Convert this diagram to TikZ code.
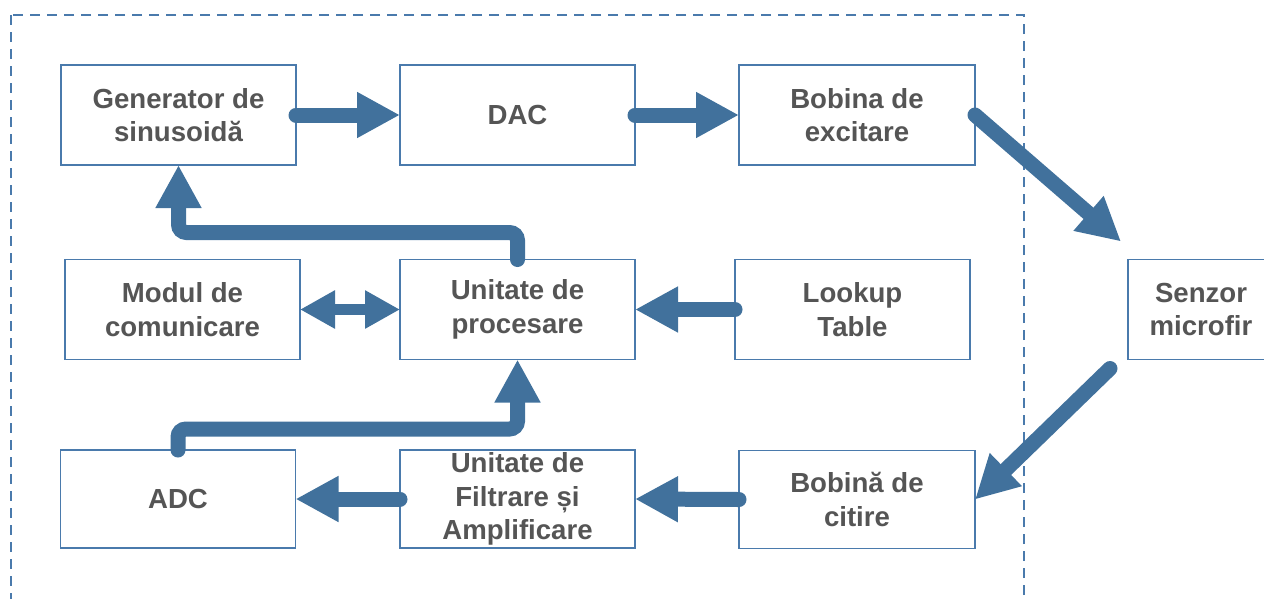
\documentclass[tikz,border=0pt]{standalone}
\usepackage{fontspec}
\setmainfont{Liberation Sans}
\usetikzlibrary{arrows.meta,calc}
\definecolor{boxblue}{RGB}{74,122,172}
\definecolor{flowblue}{RGB}{65,113,156}
\definecolor{txtgray}{RGB}{85,85,85}
\tikzstyle{block} = [draw=boxblue, line width=1.6pt, rectangle, inner sep=0pt, outer sep=0pt, minimum height=100pt, minimum width=235pt, align=center, text=txtgray, font=\fontsize{27.6}{33.5}\selectfont\bfseries]
\tikzstyle{flow} = [draw=flowblue, line width=15pt, line cap=round, -{Triangle[length=43pt,width=43pt]}]
\tikzstyle{flowboth} = [draw=flowblue, line width=11pt, {Triangle[length=35pt,width=36pt]}-{Triangle[length=35pt,width=36pt]}]

\begin{document}
\begin{tikzpicture}[x=1pt, y=-1pt]

	\clip (0,0) rectangle (1264,598);
	\draw [boxblue, line width=1.5pt, dash pattern=on 10pt off 7pt] (11,15) rectangle (1024,640);

	\node [block] (gen) at (178.5,115) {Generator de\\sinusoidă};
	\node [block] (dac) at (517.5,115) {DAC};
	\node [block, minimum width=236pt] (excit) at (857,115) {Bobina de\\excitare};
	\node [block] (modul) at (182.5,309.5) {Modul de\\comunicare};
	\node [block] (proc) at (517.5,309.5) {Unitate de\\procesare};
	\node [block] (lookup) at (852.5,309.5) {Lookup\\Table};
	\node [block, minimum width=146pt] (senzor) at (1201,309.5) {Senzor\\microfir};
	\node [block, minimum height=98pt] (adc) at (178,499) {ADC};
	\node [block, minimum height=98pt] (filt) at (517.5,499) {Unitate de\\Filtrare și\\Amplificare};
	\node [block, minimum height=98pt, minimum width=236pt] (citire) at (857,499.5) {Bobină de\\citire};

	\coordinate (intoSenzor) at ($(senzor.north west)+(-7,-18)$);
	\coordinate (fromSenzor) at ($(senzor.south west)+(-18,9)$);

	\draw [flow] (gen.east) -- (dac.west);
	\draw [flow] (dac.east) -- (excit.west);
	\draw [flow] (excit.east) -- (intoSenzor);
	\draw [flow] (fromSenzor) -- (citire.east);
	\draw [flow] (lookup.west) -- (proc.east);
	\draw [flowboth] (modul.east) -- (proc.west);
	\draw [flow, rounded corners=8pt] (proc.north) -- ++(0,-27) -| (gen.south);
	\draw [flow, rounded corners=8pt] (adc.north) -- ++(0,-21) -| (proc.south);
	\draw [flow] (filt.west) -- (adc.east);
	\draw [flow] (citire.west) -- (filt.east);
\end{tikzpicture}
\end{document}
